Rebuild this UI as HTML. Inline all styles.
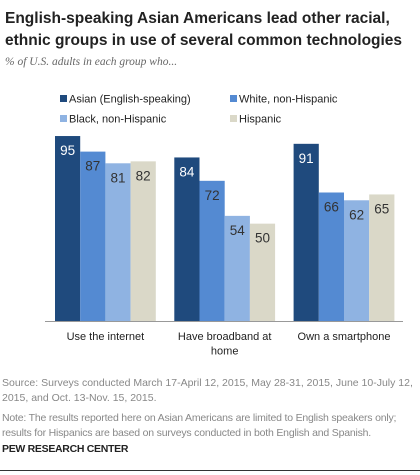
<!DOCTYPE html>
<html><head><meta charset="utf-8"><style>
body{margin:0;width:420px;height:475px;background:#fff;font-family:"Liberation Sans",sans-serif;overflow:hidden;position:relative}
.t{position:absolute;white-space:nowrap}
</style></head><body>
<div class="t" style="left:5px;top:8px;font-size:15.5px;font-weight:bold;color:#222;line-height:22px">English-speaking Asian Americans lead other racial,<br>ethnic groups in use of several common technologies</div>
<div class="t" style="left:5px;top:56px;font-family:'Liberation Serif',serif;font-style:italic;font-size:11.5px;color:#666">% of U.S. adults in each group who...</div>
<svg id="c" width="420" height="475" style="position:absolute;left:0;top:0"></svg>
<div class="t" style="left:2px;top:376px;font-size:10.5px;color:#888;line-height:14.5px">Source: Surveys conducted March 17-April 12, 2015, May 28-31, 2015,  June 10-July 12,<br>2015, and Oct. 13-Nov. 15, 2015.</div>
<div class="t" style="left:2px;top:411px;font-size:10.5px;color:#888;line-height:14.5px;letter-spacing:-0.2px">Note: The results reported here on Asian Americans are limited to English speakers only;<br>results for Hispanics are based on surveys conducted in both English and Spanish.</div>
<div class="t" style="left:2px;top:443px;font-size:10.5px;font-weight:bold;color:#222;letter-spacing:-0.3px">PEW RESEARCH CENTER</div>
<div style="position:absolute;left:0;top:470px;width:420px;height:1px;background:#333"></div>
<script>
const categories=["Use the internet","Have broadband at|home","Own a smartphone"];
const seriesNames=["Asian (English-speaking)","White, non-Hispanic","Black, non-Hispanic","Hispanic"];
const asian=[95,84,91];
const white=[87,72,66];
const black=[81,54,62];
const hispanic=[82,50,65];
const series=[asian,white,black,hispanic];
const colors=["#1f4a7d","#548ad2","#8fb3e2","#dad8c8"];
const textColors=["#fff","#333","#333","#333"];
const NS="http://www.w3.org/2000/svg";
const svg=document.getElementById('c');
const y0=321,yScale=1.947;
function y(v){return y0-v*yScale;}
function gx(i){return 55+i*119.3;}
const bw=25.2;
function mk(t,a){const e=document.createElementNS(NS,t);for(const k in a)e.setAttribute(k,a[k]);svg.appendChild(e);return e;}
series.forEach((s,si)=>{s.forEach((v,ci)=>{
 const r=mk('rect',{x:gx(ci)+si*bw,y:y(v),width:bw,height:v*yScale,fill:colors[si]});
 
 
 const t=mk('text',{x:gx(ci)+si*bw+bw/2,y:y(v)+19,'text-anchor':'middle','font-size':'13.5',fill:textColors[si],'font-family':'Liberation Sans, sans-serif'});
 t.textContent=v;
 
 
});});
const ax=mk('line',{x1:45,x2:403,y1:y0+0.5,y2:y0+0.5,stroke:'#999','stroke-width':1});


categories.forEach((c,ci)=>{c.split('|').forEach((ln,li)=>{
 const t=mk('text',{x:gx(ci)+2*bw,y:340+li*14.5,'text-anchor':'middle','font-size':'11',fill:'#222','font-family':'Liberation Sans, sans-serif'});
 t.textContent=ln;
 
 
});});
seriesNames.forEach((n,i)=>{
 const lx=i%2?231:61, ly=i<2?99:119;
 const r=mk('rect',{x:lx-1,y:ly-4,width:7,height:7,fill:colors[i]});
 
 
 const t=mk('text',{x:lx+8,y:ly+3.5,'font-size':'11',fill:'#222','font-family':'Liberation Sans, sans-serif'});
 t.textContent=n;
 
 
});
</script>
</body></html>
